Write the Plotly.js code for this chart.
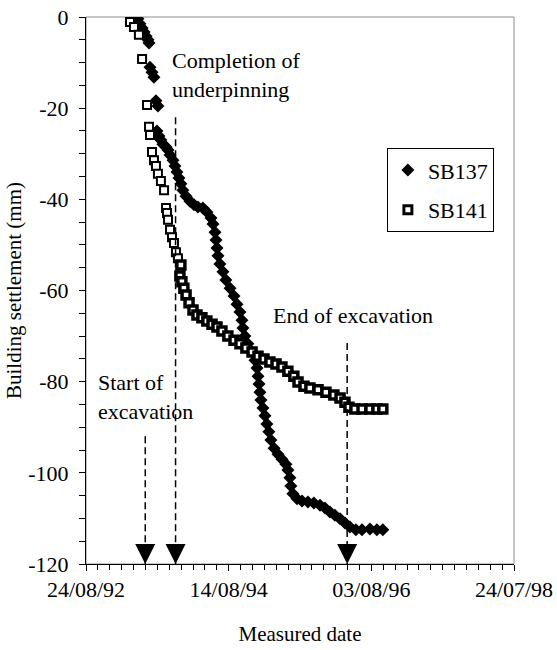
<!DOCTYPE html>
<html><head><meta charset="utf-8">
<script src="https://cdn.plot.ly/plotly-3.0.1.min.js"></script>
<style>html,body{margin:0;padding:0;background:#fff}#chart{width:557px;height:650px}</style>
</head><body><div id="chart"></div>
<script>
// x values: days since 24/08/92 (first tick of the date axis)
const sb137Days = [262,272,283,293,303,313,318,323,333,343,353,363,358,368,378,388,404,414,424,439,449,459,469,479,489,505,525,545,565,590,610,631,641,651,656,661,666,676,691,706,727,747,762,777,787,792,802,817,838,853,863,868,873,878,883,893,903,913,923,933,949,969,989,1009,1019,1029,1034,1044,1065,1090,1120,1150,1181,1206,1231,1256,1282,1307,1332,1362,1393,1433,1468,1498];
const sb137Settlement = [-0.4,-1.5,-2.4,-3.3,-4.2,-5.0,-5.7,-11.0,-12.1,-13.2,-18.4,-19.5,-25.0,-26.1,-27.0,-27.9,-28.5,-29.2,-30.3,-31.4,-32.7,-34.0,-35.3,-36.6,-38.0,-39.3,-40.4,-41.2,-41.7,-41.9,-42.8,-44.1,-45.4,-47.2,-48.9,-50.7,-52.4,-54.2,-55.9,-57.7,-59.5,-61.2,-63.0,-64.7,-66.5,-68.2,-70.0,-71.7,-73.5,-75.3,-77.0,-78.8,-80.5,-82.3,-84.0,-85.8,-87.5,-89.3,-91.0,-92.8,-94.6,-95.9,-97.0,-98.1,-99.4,-101.1,-102.9,-104.6,-105.7,-106.2,-106.4,-106.6,-107.1,-107.7,-108.6,-109.3,-110.1,-111.0,-111.9,-112.5,-112.5,-112.3,-112.5,-112.5];
const sb141Days = [222,242,267,283,308,318,323,333,343,353,363,378,394,404,409,414,424,434,444,454,464,479,474,484,494,505,520,540,560,585,610,636,661,686,716,747,777,807,838,868,898,928,959,989,1019,1049,1070,1100,1130,1171,1211,1251,1282,1307,1327,1357,1393,1433,1468,1498];
const sb141Settlement = [-1.1,-2.2,-3.9,-9.2,-19.3,-24.1,-25.9,-29.6,-31.4,-32.7,-34.4,-36.0,-38.0,-41.9,-43.0,-44.5,-46.7,-48.3,-49.6,-51.6,-52.9,-54.4,-56.8,-58.1,-59.5,-61.0,-62.7,-64.3,-65.4,-66.0,-66.7,-67.4,-68.0,-68.9,-70.0,-70.9,-71.7,-72.6,-73.5,-74.4,-75.0,-75.7,-76.1,-76.8,-77.7,-78.8,-80.1,-81.0,-81.4,-81.8,-82.3,-82.9,-83.6,-84.5,-85.6,-86.0,-86.0,-86.0,-86.0,-86.0];

const eventDays = [299, 452, 1318];          // start of excavation, completion of underpinning, end of excavation
const eventLineTop = [-92, -22, -71.5];       // settlement level where each dashed marker line begins

const xTickDays = [0, 720, 1440, 2160];
const xTickLabels = ['24/08/92', '14/08/94', '03/08/96', '24/07/98'];
const yTickVals = [0, -20, -40, -60, -80, -100, -120];
const yMin = -120, yMax = 0;

const serif = 'Liberation Serif, Times New Roman, serif';

// readings after underpinning are so closely spaced that their outlines merge into a solid band
const sb141Outline = sb141Days.map(d => d >= 470 ? 3.5 : 2);

const data = [
  {type:'scatter', mode:'markers', name:'SB137', x:sb137Days, y:sb137Settlement,
   marker:{symbol:'diamond', size:10, color:'#000', line:{width:0}}, legendgroup:'a', hoverinfo:'x+y'},
  {type:'scatter', mode:'markers', name:'SB141', x:sb141Days, y:sb141Settlement,
   marker:{symbol:'square', size:8, color:'#fff', line:{color:'#000', width:sb141Outline}}, legendgroup:'b', hoverinfo:'x+y'}
];
eventDays.forEach((d, i) => {
  data.push({type:'scatter', mode:'lines', x:[d, d], y:[eventLineTop[i], yMin], showlegend:false,
    hoverinfo:'skip', line:{color:'#000', width:1.5, dash:'7px,4px'}});
});
data.push({type:'scatter', mode:'markers', x:eventDays, y:eventDays.map(() => yMin), showlegend:false,
  cliponaxis:false, hoverinfo:'skip', marker:{symbol:'arrow-down', size:20, color:'#000'}});

const layout = {
  width:557, height:650,
  margin:{l:86, r:43, t:17, b:86},
  paper_bgcolor:'#fff', plot_bgcolor:'#fff',
  font:{family:serif, size:22, color:'#000'},
  showlegend:true,
  legend:{x:0.703, y:0.76, xanchor:'left', yanchor:'top', bgcolor:'#fff', bordercolor:'#000', borderwidth:1,
    font:{family:serif, size:22, color:'#000'}, traceorder:'grouped', tracegroupgap:8, itemwidth:30},
  xaxis:{range:[0, 2160], tickmode:'array', tickvals:xTickDays, ticktext:xTickLabels,
    ticks:'outside', ticklen:6, tickwidth:1, tickcolor:'#000', showline:true, linecolor:'#000', linewidth:1,
    showgrid:false, zeroline:false, tickfont:{family:serif, size:22, color:'#000'},
    minor:{tickmode:'linear', tick0:0, dtick:60, ticks:'outside', ticklen:5, tickcolor:'#000', showgrid:false},
    title:{text:'Measured date', font:{family:serif, size:21, color:'#000'}, standoff:24}},
  yaxis:{range:[yMin, yMax], tickmode:'array', tickvals:yTickVals, ticktext:yTickVals.map(String),
    ticks:'outside', ticklen:6, tickwidth:1, tickcolor:'#000', showline:true, linecolor:'#000', linewidth:1,
    showgrid:false, zeroline:false, tickfont:{family:serif, size:22, color:'#000'}, ticklabelstandoff:6,
    minor:{tickmode:'linear', tick0:0, dtick:5, ticks:'outside', ticklen:6, tickcolor:'#000', showgrid:false},
    title:{text:'Building settlement (mm)', font:{family:serif, size:21, color:'#000'}, standoff:0}},
  shapes:[{type:'rect', xref:'paper', yref:'paper', x0:0, x1:1, y0:0, y1:1, layer:'below',
    line:{color:'#8c8c8c', width:1}, fillcolor:'rgba(0,0,0,0)'}],
  annotations:[
    {text:'Completion of<br>underpinning', xref:'paper', yref:'paper', x:0.196, y:0.894,
      xanchor:'left', yanchor:'middle', align:'left', showarrow:false, font:{family:serif, size:22, color:'#000'}},
    {text:'End of excavation', xref:'paper', yref:'paper', x:0.433, y:0.455,
      xanchor:'left', yanchor:'middle', align:'left', showarrow:false, font:{family:serif, size:22, color:'#000'}},
    {text:'Start of<br>excavation', xref:'paper', yref:'paper', x:0.024, y:0.306,
      xanchor:'left', yanchor:'middle', align:'left', showarrow:false, font:{family:serif, size:22, color:'#000'}}
  ]
};

Plotly.newPlot('chart', data, layout, {displayModeBar:false, staticPlot:true});
</script>
</body></html>
